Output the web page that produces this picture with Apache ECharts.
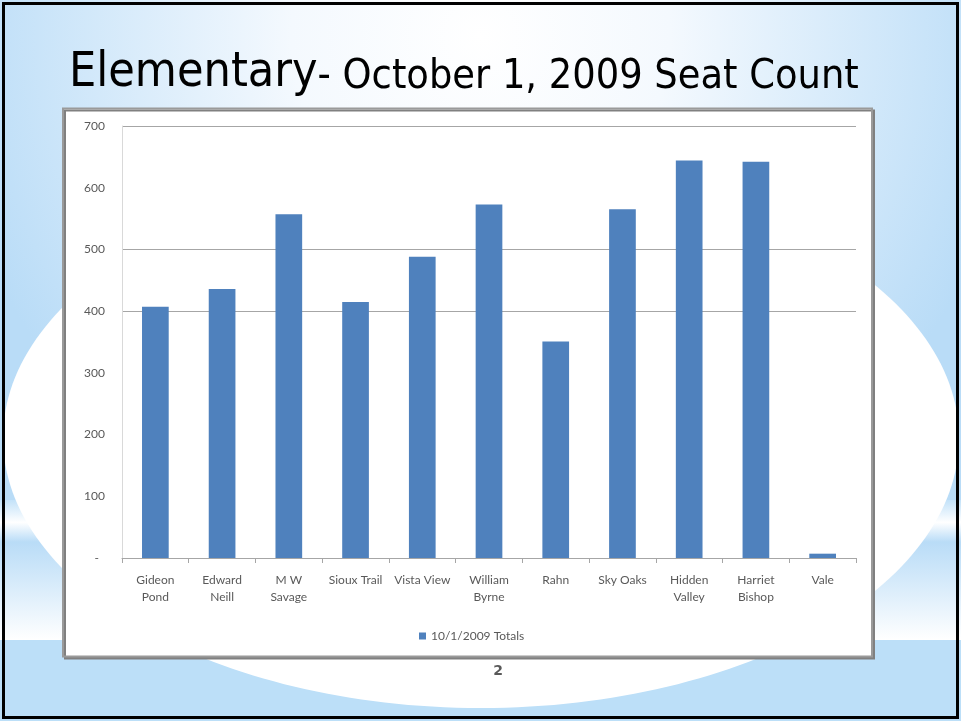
<!DOCTYPE html>
<html>
<head>
<meta charset="utf-8">
<script src="https://cdn.jsdelivr.net/npm/echarts@6/dist/echarts.min.js"></script>
<style>
	html, body { margin: 0; padding: 0; background: #fff; }
	#chart { width: 961px; height: 721px; }
</style>
</head>
<body>
<div id="chart"></div>
<script>
// schools on the x axis
const schools = ['Gideon\nPond', 'Edward\nNeill', 'M W\nSavage', 'Sioux Trail', 'Vista View', 'William\nByrne', 'Rahn', 'Sky Oaks', 'Hidden\nValley', 'Harriet\nBishop', 'Vale']
// seat count per school
const totals = [407, 436, 557, 415, 488, 573, 351, 565, 644, 642, 7]
const seriesName = '10/1/2009 Totals'
const yMin = 0
const yMax = 700
const yStep = 100

const chart = echarts.init(document.getElementById('chart'))

const textColor = '#595959'
const gridColor = '#a6a6a6'
// only some gridlines survive in the picture (0,400,500,700)
const splitColors = [gridColor, 'transparent', 'transparent', 'transparent', gridColor, gridColor, 'transparent', gridColor]

const option = {
	animation: false,
	title: {
		text: '{a|Elementary}{b|- October 1, 2009 Seat Count}',
		left: 69,
		top: 42,
		padding: 0,
		textStyle: {
			fontWeight: 'normal',
			rich: {
				a: { fontFamily: 'DejaVu Sans Condensed', fontWeight: 'normal', fontSize: 48, color: '#000', lineHeight: 56, verticalAlign: 'bottom' },
				b: { fontFamily: 'DejaVu Sans Condensed', fontWeight: 'normal', fontSize: 41, color: '#000', lineHeight: 56, verticalAlign: 'bottom' }
			}
		}
	},
	graphic: [
		// slide background
		{
			type: 'rect', z: -20, silent: true,
			shape: { x: 0, y: 0, width: 961, height: 721 },
			style: {
				fill: new echarts.graphic.RadialGradient(0.5, 0.05, 0.75, [
					{ offset: 0, color: '#ffffff' },
					{ offset: 0.35, color: '#f4f9fe' },
					{ offset: 1, color: '#b9dcf7' }
				])
			}
		},
		{
			type: 'rect', z: -19, silent: true,
			shape: { x: 0, y: 500, width: 961, height: 140 },
			style: {
				fill: new echarts.graphic.LinearGradient(0, 0, 0, 1, [
					{ offset: 0, color: '#c3e2f9' },
					{ offset: 0.16, color: '#ffffff' },
					{ offset: 0.3, color: '#b9dcf7' },
					{ offset: 1, color: '#ffffff' }
				])
			}
		},
		{
			type: 'rect', z: -19, silent: true,
			shape: { x: 0, y: 640, width: 961, height: 81 },
			style: { fill: '#bcdff8' }
		},
		{
			type: 'ellipse', z: -18, silent: true,
			shape: { cx: 481, cy: 438, rx: 478, ry: 270 },
			style: { fill: '#ffffff' }
		},
		// slide frame
		{
			type: 'rect', z: 20, silent: true,
			shape: { x: 3.5, y: 3.5, width: 954, height: 714 },
			style: { fill: 'none', stroke: '#000', lineWidth: 3 }
		},
		// chart box
		{
			type: 'rect', z: -10, silent: true,
			shape: { x: 63, y: 108.5, width: 809, height: 548 },
			style: {
				fill: '#fff', stroke: '#9a9a9a', lineWidth: 2,
				shadowColor: '#808080', shadowOffsetX: 2, shadowOffsetY: 2, shadowBlur: 0
			}
		},
		// page number
		{
			type: 'text', z: 10, silent: true,
			x: 498, y: 671,
			style: {
				text: '2', fill: textColor, font: 'bold 14px "DejaVu Sans"',
				align: 'center', verticalAlign: 'middle'
			}
		}
	],
	legend: {
		data: [seriesName],
		left: 414,
		top: 625,
		icon: 'rect',
		itemWidth: 7,
		itemHeight: 7,
		itemGap: 10,
		textStyle: { color: textColor, fontSize: 12, fontFamily: 'Lato' }
	},
	grid: { left: 122, right: 105, top: 126, bottom: 163 },
	xAxis: {
		type: 'category',
		data: schools,
		axisLine: { show: true, lineStyle: { color: gridColor, width: 1 } },
		axisTick: { show: true, length: 5, alignWithLabel: false, lineStyle: { color: gridColor } },
		axisLabel: {
			interval: 0,
			margin: 14,
			color: textColor,
			fontSize: 12,
			lineHeight: 17,
			fontFamily: 'Lato'
		}
	},
	yAxis: {
		type: 'value',
		min: yMin,
		max: yMax,
		interval: yStep,
		axisLine: { show: true, lineStyle: { color: '#d9d9d9' } },
		axisTick: { show: false },
		splitLine: { show: true, lineStyle: { color: splitColors, width: 1 } },
		axisLabel: {
			margin: 17,
			color: textColor,
			fontSize: 12,
			fontFamily: 'Lato',
			formatter: (v) => (v === 0 ? '-  ' : String(v))
		}
	},
	series: [
		{
			name: seriesName,
			type: 'bar',
			data: totals,
			barWidth: '40%',
			itemStyle: { color: '#4f81bd' }
		}
	]
}

chart.setOption(option)
</script>
</body>
</html>
